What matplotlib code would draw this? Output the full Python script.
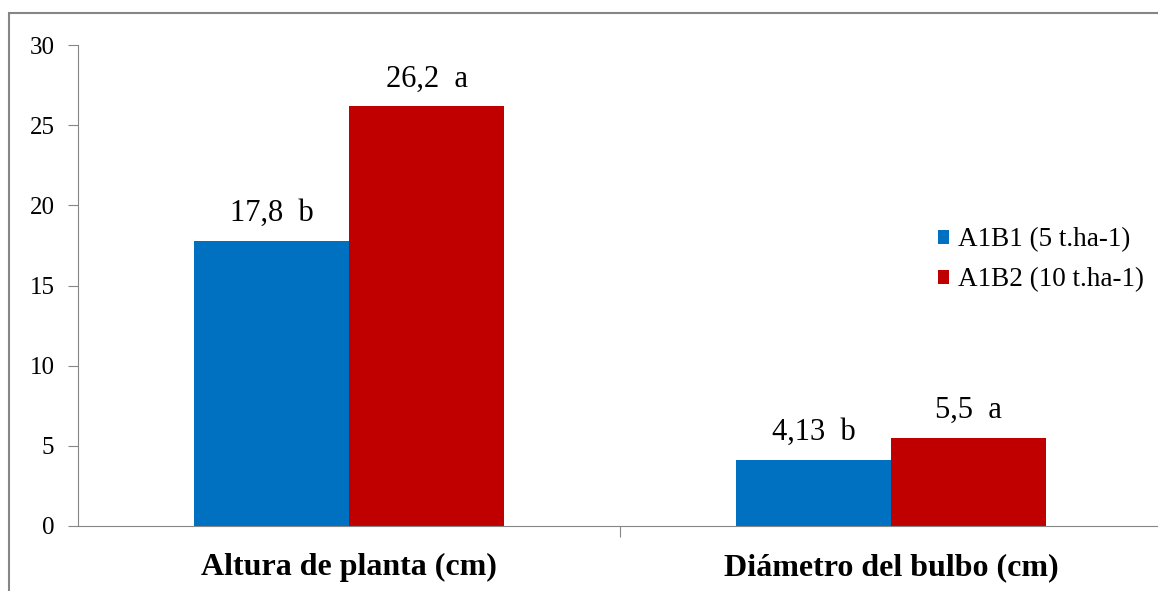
import numpy as np
import matplotlib.pyplot as plt
from matplotlib.patches import Rectangle

plt.rcParams['font.family'] = ['Liberation Serif', 'DejaVu Serif']

# data
categories = ['Altura de planta (cm)', 'Diámetro del bulbo (cm)']
series_names = ['A1B1 (5 t.ha-1)', 'A1B2 (10 t.ha-1)']
a1b1 = [17.8, 4.13]
a1b2 = [26.2, 5.5]
a1b1_labels = ['17,8  b', '4,13  b']
a1b2_labels = ['26,2  a', '5,5  a']
colors = ['#0070C0', '#C00000']

fig = plt.figure(figsize=(11.58, 5.91), dpi=100)
W, H = 1158, 591

# outer chart border
fig.patches.append(Rectangle((9 / W, -0.1), 1.2, (H - 13) / H + 0.1,
                             transform=fig.transFigure, fill=False,
                             edgecolor='#868686', linewidth=1.5))

ax = fig.add_axes([78 / W, (H - 526) / H, 1084 / W, (526 - 45) / H])

x = np.arange(len(categories))
bw = 0.286
b1 = ax.bar(x - bw / 2, a1b1, bw, color=colors[0], label=series_names[0])
b2 = ax.bar(x + bw / 2, a1b2, bw, color=colors[1], label=series_names[1])

for bars, labs in [(b1, a1b1_labels), (b2, a1b2_labels)]:
    for r, lab in zip(bars, labs):
        ax.annotate(lab, (r.get_x() + r.get_width() / 2, r.get_height()),
                    xytext=(0, 9), textcoords='offset points',
                    ha='center', va='bottom', fontsize=22)

ax.set_xlim(-0.5, 1.5)
ax.set_ylim(0, 30)
ax.set_yticks(np.arange(0, 31, 5))
ax.tick_params(axis='y', labelsize=18, length=7, color='#868686', pad=10)

ax.set_xticks([0.5])
ax.set_xticklabels([])
ax.tick_params(axis='x', length=8, color='#868686')
for i, c in enumerate(categories):
    ax.text(x[i], -2.6, c, ha='center', va='center', fontsize=23,
            fontweight='bold')

for s in ['top', 'right']:
    ax.spines[s].set_visible(False)
for s in ['left', 'bottom']:
    ax.spines[s].set_color('#868686')

leg = fig.legend(loc='center left', bbox_to_anchor=(938 / W, (H - 260) / H),
                 frameon=False, fontsize=19.5, handlelength=0.4,
                 handleheight=0.4, handletextpad=0.35, labelspacing=0.55,
                 borderpad=0, borderaxespad=0)

fig.savefig('out.png', dpi=100)
